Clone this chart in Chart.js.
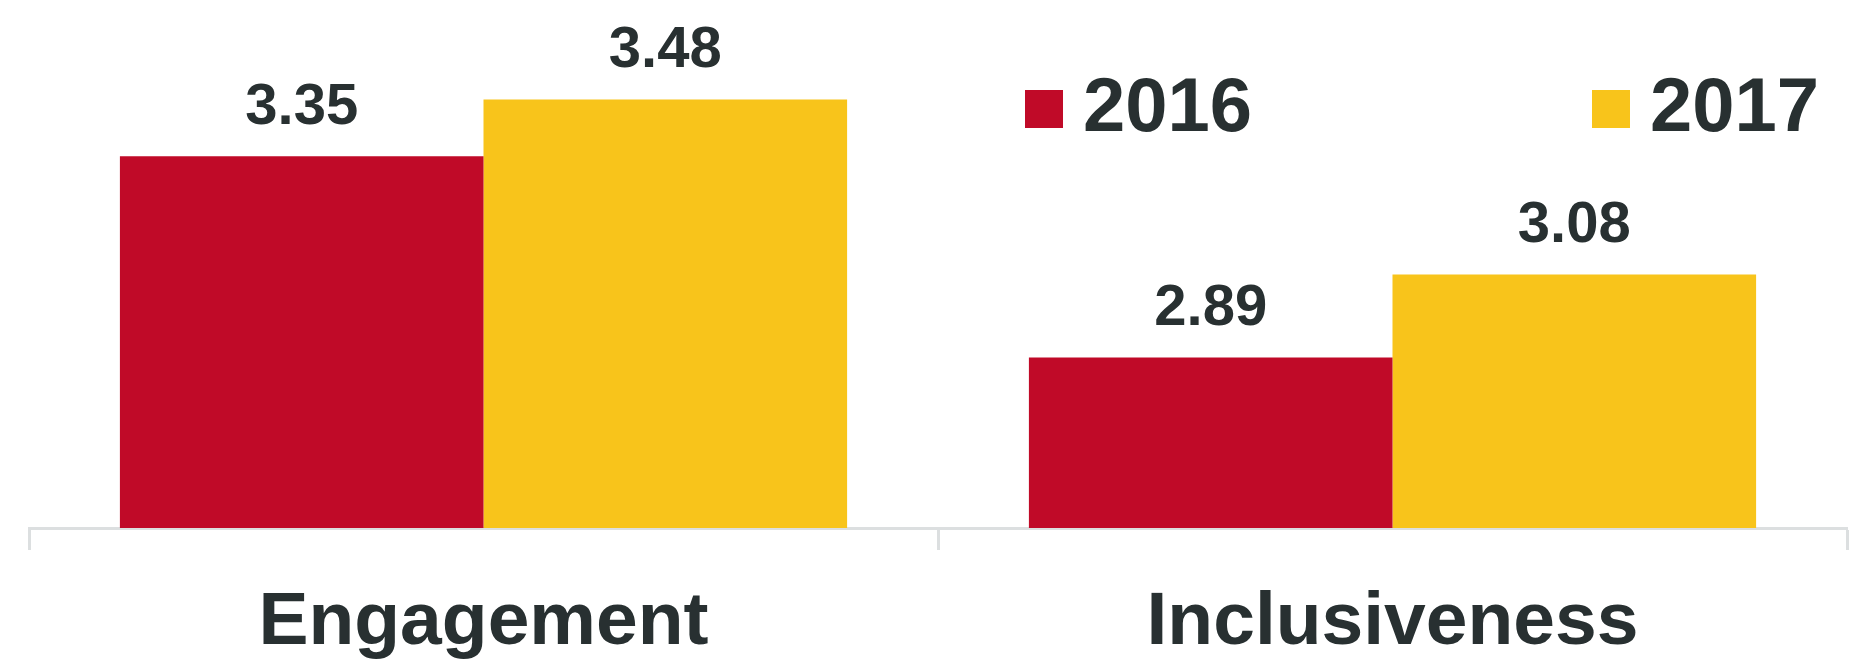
<!DOCTYPE html>
<html>
<head>
<meta charset="utf-8">
<title>Engagement and Inclusiveness</title>
<script src="https://cdn.jsdelivr.net/npm/chart.js@4.4.1/dist/chart.umd.min.js"></script>
<style>
    html, body { margin: 0; padding: 0; background: #fff; }
    #wrap { width: 1868px; height: 662px; position: relative; }
</style>
</head>
<body>
<div id="wrap"><canvas id="mychart"></canvas></div>
<script>
var categories = ['Engagement', 'Inclusiveness'];
var seriesNames = ['2016', '2017'];
var values2016 = [3.35, 2.89];
var values2017 = [3.48, 3.08];
var seriesColors = ['#c00a28', '#f8c41b'];

var textColor = '#283031';
var axisColor = '#dcdfe0';
var fontFamily = "'Liberation Sans', Arial, sans-serif";

// values written above each bar
var barValuesPlugin = {
    id: 'barValues',
    afterDatasetsDraw: function (chart) {
        var ctx = chart.ctx;
        ctx.save();
        ctx.font = 'bold 58px ' + fontFamily;
        ctx.fillStyle = textColor;
        ctx.textAlign = 'center';
        ctx.textBaseline = 'alphabetic';
        chart.data.datasets.forEach(function (ds, i) {
            chart.getDatasetMeta(i).data.forEach(function (bar, j) {
                ctx.fillText(ds.data[j].toFixed(2), bar.x, bar.y - 32);
            });
        });
        ctx.restore();
    }
};

// legend drawn by hand: the built-in one leaves half a font size between box and text
var legendPlugin = {
    id: 'sideLegend',
    afterDraw: function (chart) {
        var ctx = chart.ctx;
        var area = chart.chartArea;
        var x = area.right - 822;
        var y = 90;
        ctx.save();
        ctx.font = 'bold 76px ' + fontFamily;
        ctx.textAlign = 'left';
        ctx.textBaseline = 'middle';
        chart.data.datasets.forEach(function (ds, i) {
            var bx = x + i * 567;
            ctx.fillStyle = ds.backgroundColor;
            ctx.fillRect(bx, y, 38, 38);
            ctx.fillStyle = textColor;
            ctx.fillText(ds.label, bx + 58, y + 20);
        });
        ctx.restore();
    }
};

document.addEventListener('DOMContentLoaded', function () {
    var ctx = document.getElementById('mychart').getContext('2d');
    var mychart = new Chart(ctx, {
        type: 'bar',
        data: {
            labels: categories,
            datasets: [{
                label: seriesNames[0],
                data: values2016,
                backgroundColor: seriesColors[0],
                borderWidth: 0,
                categoryPercentage: 0.8,
                barPercentage: 1.0
            }, {
                label: seriesNames[1],
                data: values2017,
                backgroundColor: seriesColors[1],
                borderWidth: 0,
                categoryPercentage: 0.8,
                barPercentage: 1.0
            }]
        },
        options: {
            responsive: true,
            maintainAspectRatio: false,
            animation: false,
            layout: {
                padding: { top: 47, left: 29, right: 21, bottom: 0 }
            },
            plugins: {
                legend: { display: false },
                tooltip: { enabled: false }
            },
            scales: {
                x: {
                    // fixed axis height so the baseline sits where it does in the original
                    afterFit: function (scale) {
                        scale.height = 134;
                    },
                    grid: {
                        offset: true,
                        drawOnChartArea: false,
                        drawTicks: true,
                        tickLength: 22,
                        tickWidth: 3,
                        tickColor: axisColor
                    },
                    border: {
                        display: true,
                        color: axisColor,
                        width: 3
                    },
                    ticks: {
                        color: textColor,
                        padding: 28,
                        font: { family: fontFamily, size: 75, weight: 'bold' }
                    }
                },
                y: {
                    display: false,
                    min: 2.5,
                    max: 3.6
                }
            }
        },
        plugins: [barValuesPlugin, legendPlugin]
    });
});
</script>
</body>
</html>
